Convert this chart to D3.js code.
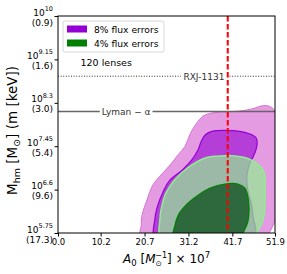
<!DOCTYPE html>
<html>
<head>
<meta charset="utf-8">
<script src="https://cdn.jsdelivr.net/npm/d3@7"></script>
<style>
  body { margin: 0; background: #fff; }
  svg { font-family: 'DejaVu Sans', sans-serif; }
</style>
</head>
<body>
<svg id="chart" width="287" height="274"></svg>
<script>
// tick values and labels
const xTicks = [0.0, 10.2, 20.7, 31.2, 41.7, 51.9]
const yTicks = [10, 9.15, 8.3, 7.45, 6.6, 5.75]
const yTickExp = ['10', '9.15', '8.3', '7.45', '6.6', '5.75']
const yTickKeV = ['0.9', '1.6', '3.0', '5.4', '9.6', '17.3']

// reference lines
const rxjLogM = 8.82
const lymanLogM = 8.13
const a0Ref = 40.6

// contour outlines [A0, log10 Mhm]
const flux8Outer = [[19.8,5.6],[19.9,5.9],[20.1,6.1],[21.3,6.4],[22.7,6.69],[24.9,6.91],[26.8,7.08],[28.7,7.28],[30.4,7.45],[31.6,7.69],[33.0,7.88],[34.7,8.04],[36.8,8.10],[39.9,8.12],[43.5,8.14],[46.4,8.18],[48.8,8.24],[50.2,8.24],[51.7,8.16],[52.4,7.8],[52.4,6.2],[51.7,5.95],[50.5,5.75],[49.5,5.6]]
const flux8Inner = [[23.4,5.6],[23.2,6.04],[23.9,6.30],[25.1,6.55],[26.8,6.79],[29.7,6.98],[32.0,7.18],[33.5,7.38],[34.2,7.53],[35.2,7.67],[36.8,7.74],[39.9,7.76],[43.5,7.74],[45.9,7.69],[47.4,7.61],[47.6,7.47],[46.9,7.28],[45.9,7.12],[45.2,6.89],[45.4,6.59],[46.2,6.34],[46.6,6.10],[46.9,5.6]]
const flux4Outer = [[24.9,5.6],[24.4,6.04],[24.9,6.30],[25.8,6.53],[27.5,6.75],[29.7,6.94],[32.3,7.10],[35.2,7.22],[38.8,7.26],[42.3,7.26],[45.4,7.21],[47.8,7.10],[49.3,6.94],[49.5,6.69],[49.5,6.40],[49.3,6.10],[48.6,5.91],[47.1,5.72],[46.0,5.6]]
const flux4Inner = [[27.7,5.6],[28.0,5.91],[28.9,6.12],[30.9,6.32],[33.5,6.49],[36.4,6.63],[39.9,6.71],[43.0,6.71],[44.7,6.63],[45.4,6.47],[45.7,6.20],[45.4,5.97],[44.5,5.79],[43.0,5.6]]

const legendItems = [
  { label: '8% flux errors', color: '#9400D3' },
  { label: '4% flux errors', color: '#008000' }
]

const margin = { top: 16, right: 12, bottom: 41, left: 58 }
const width = 287, height = 274
const aWidth = width - margin.left - margin.right
const aHeight = height - margin.top - margin.bottom

const svg = d3.select('#chart')

const x = d3.scaleLinear().domain([0, 51.9]).range([0, aWidth])
const y = d3.scaleLinear().domain([5.75, 10]).range([aHeight, 0])

const g = svg.append('g')
  .attr('transform', 'translate(' + margin.left + ',' + margin.top + ')')

g.append('clipPath').attr('id', 'clip')
  .append('rect').attr('width', aWidth).attr('height', aHeight)

const plot = g.append('g').attr('clip-path', 'url(#clip)')

const line = d3.line()
  .x(d => x(d[0]))
  .y(d => y(d[1]))
  .curve(d3.curveCatmullRomClosed.alpha(0.5))

// contours, drawn back to front
const layers = [
  { data: flux8Outer, fill: '#DA70D6', op: 0.7, stroke: '#DA70D6', sw: 1 },
  { data: flux8Inner, fill: '#9400D3', op: 0.6, stroke: '#9400D3', sw: 1.2 },
  { data: flux4Outer, fill: '#90EE90', op: 0.7, stroke: '#90EE90', sw: 1.5 },
  { data: flux4Inner, fill: '#1a5a2a', op: 0.85, stroke: '#008000', sw: 1.2 }
]

layers.forEach(l => {
  plot.append('path')
    .attr('d', line(l.data))
    .attr('fill', l.fill)
    .attr('fill-opacity', l.op)
    .attr('stroke', l.stroke)
    .attr('stroke-width', l.sw)
})

// RXJ-1131 dotted line with label
const rxjY = y(rxjLogM)
plot.append('line')
  .attr('x1', 0).attr('x2', x(29.4)).attr('y1', rxjY).attr('y2', rxjY)
  .attr('stroke', '#000').attr('stroke-width', 0.8).attr('stroke-dasharray', '1,1.6')
plot.append('line')
  .attr('x1', x(40.4)).attr('x2', aWidth).attr('y1', rxjY).attr('y2', rxjY)
  .attr('stroke', '#000').attr('stroke-width', 0.8).attr('stroke-dasharray', '1,1.6')
g.append('text')
  .attr('x', x(34.9)).attr('y', rxjY + 3.3)
  .attr('text-anchor', 'middle').attr('font-size', 9).attr('fill', '#333')
  .text('RXJ-1131')

// Lyman-alpha solid line with label
const lyY = y(lymanLogM)
plot.append('line')
  .attr('x1', 0).attr('x2', x(10.0)).attr('y1', lyY).attr('y2', lyY)
  .attr('stroke', '#666').attr('stroke-width', 1.5)
plot.append('line')
  .attr('x1', x(22.6)).attr('x2', aWidth).attr('y1', lyY).attr('y2', lyY)
  .attr('stroke', '#666').attr('stroke-width', 1.5)
g.append('text')
  .attr('x', x(16.3)).attr('y', lyY + 3.3)
  .attr('text-anchor', 'middle').attr('font-size', 9).attr('fill', '#333')
  .text('Lyman − α')

// vertical red dashed line
plot.append('line')
  .attr('x1', x(a0Ref)).attr('x2', x(a0Ref)).attr('y1', 0).attr('y2', aHeight)
  .attr('stroke', '#ff0000').attr('stroke-width', 2).attr('stroke-dasharray', '5.5,2.5')

// axes
const xAxis = g.append('g')
  .attr('transform', 'translate(0,' + aHeight + ')')
  .call(d3.axisBottom(x).tickValues(xTicks).tickFormat(d3.format('.1f')).tickSize(3.5).tickPadding(2))
xAxis.selectAll('text').attr('font-size', 8.5).attr('fill', '#000').attr('font-family', 'DejaVu Sans')

g.append('g')
  .call(d3.axisLeft(y).tickValues(yTicks).tickFormat('').tickSize(3.5))

const yLab = g.append('g')
yTicks.forEach((t, i) => {
  const ty = y(t)
  const t1 = yLab.append('text')
    .attr('x', -5).attr('y', ty - 0.5)
    .attr('text-anchor', 'end').attr('font-size', 9)
  t1.append('tspan').text('10')
  t1.append('tspan').attr('dy', -4.5).attr('font-size', 6.5).text(yTickExp[i])
  yLab.append('text')
    .attr('x', -5).attr('y', ty + 9.5)
    .attr('text-anchor', 'end').attr('font-size', 9)
    .text('(' + yTickKeV[i] + ')')
})

g.selectAll('.domain').remove()
g.append('rect')
  .attr('width', aWidth).attr('height', aHeight)
  .attr('fill', 'none').attr('stroke', '#000').attr('stroke-width', 1)

// legend
const leg = g.append('g').attr('transform', 'translate(5,5)')
leg.append('rect')
  .attr('width', 101).attr('height', 31).attr('rx', 2)
  .attr('fill', '#fff').attr('fill-opacity', 0.8)
  .attr('stroke', '#ccc').attr('stroke-width', 0.8)
legendItems.forEach((d, i) => {
  leg.append('rect')
    .attr('x', 4).attr('y', 4.5 + i * 14).attr('width', 20).attr('height', 7)
    .attr('fill', d.color)
  leg.append('text')
    .attr('x', 31).attr('y', 11.5 + i * 14)
    .attr('font-size', 9.2)
    .text(d.label)
})

g.append('text')
  .attr('x', 22.5).attr('y', 49.7)
  .attr('font-size', 9.5)
  .text('120 lenses')

// axis titles
const xt = svg.append('text')
  .attr('x', 123).attr('y', 263).attr('font-size', 12)
xt.append('tspan').attr('font-style', 'italic').text('A')
xt.append('tspan').attr('dy', 2.5).attr('font-size', 8.5).text('0')
xt.append('tspan').attr('dy', -2.5).text(' [')
xt.append('tspan').attr('font-style', 'italic').text('M')
xt.append('tspan').attr('dy', 3).attr('font-size', 7.5).text('⊙')
xt.append('tspan').attr('dx', -6.5).attr('dy', -8.5).attr('font-size', 8).text('−1')
xt.append('tspan').attr('dy', 5.5).text('] × 10')
xt.append('tspan').attr('dy', -5).attr('font-size', 8.5).text('7')

const yt = svg.append('text')
  .attr('x', 0).attr('y', 0).attr('font-size', 13.5)
  .attr('transform', 'translate(17,195) rotate(-90)')
yt.append('tspan').text('M')
yt.append('tspan').attr('dy', 3).attr('font-size', 9.5).text('hm')
yt.append('tspan').attr('dy', -3).text(' [M')
yt.append('tspan').attr('dy', 3).attr('font-size', 9.5).text('⊙')
yt.append('tspan').attr('dy', -3).text(']  (m [keV])')
</script>
</body>
</html>
